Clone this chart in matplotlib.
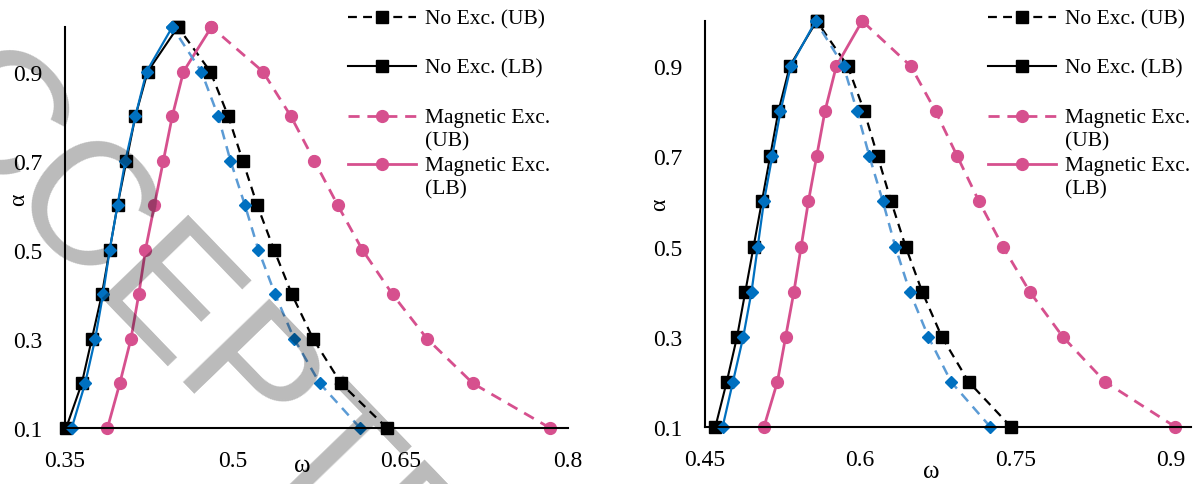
import matplotlib
matplotlib.use("Agg")
import matplotlib.pyplot as plt
from matplotlib.lines import Line2D

plt.rcParams['font.family'] = ['Liberation Serif', 'DejaVu Serif']

# damping ratio levels (shared by every curve)
alpha = [0.1, 0.2, 0.3, 0.4, 0.5, 0.6, 0.7, 0.8, 0.9, 1.0]

# left panel: omega bounds for each alpha
left_noexc_lb = [0.351, 0.365, 0.374, 0.383, 0.390, 0.397, 0.405, 0.413, 0.424, 0.451]
left_noexc_ub = [0.638, 0.597, 0.572, 0.553, 0.537, 0.522, 0.509, 0.496, 0.480, 0.451]
left_blue_lb = [0.356, 0.368, 0.377, 0.384, 0.390, 0.397, 0.404, 0.413, 0.423, 0.446]
left_blue_ub = [0.614, 0.578, 0.555, 0.538, 0.523, 0.511, 0.498, 0.487, 0.472, 0.446]
left_mag_lb = [0.388, 0.399, 0.409, 0.416, 0.422, 0.430, 0.438, 0.446, 0.456, 0.481]
left_mag_ub = [0.784, 0.715, 0.674, 0.643, 0.616, 0.594, 0.573, 0.552, 0.527, 0.481]

# right panel
right_noexc_lb = [0.460, 0.471, 0.481, 0.489, 0.497, 0.505, 0.513, 0.521, 0.532, 0.558]
right_noexc_ub = [0.746, 0.705, 0.679, 0.660, 0.644, 0.630, 0.617, 0.604, 0.588, 0.558]
right_blue_lb = [0.467, 0.477, 0.487, 0.495, 0.501, 0.507, 0.515, 0.523, 0.533, 0.557]
right_blue_ub = [0.726, 0.688, 0.666, 0.648, 0.634, 0.622, 0.609, 0.597, 0.584, 0.557]
right_mag_lb = [0.507, 0.520, 0.528, 0.536, 0.543, 0.550, 0.558, 0.566, 0.577, 0.602]
right_mag_ub = [0.905, 0.837, 0.796, 0.764, 0.738, 0.715, 0.694, 0.673, 0.649, 0.602]

left_xticks = [0.35, 0.5, 0.65, 0.8]
right_xticks = [0.45, 0.6, 0.75, 0.9]
yticks = [0.1, 0.3, 0.5, 0.7, 0.9]

legend_labels = ['No Exc. (UB)', 'No Exc. (LB)', 'Magnetic Exc.\n(UB)', 'Magnetic Exc.\n(LB)']

PINK = '#D6508E'
BLUE = '#0070C0'
LBLUE = '#5B9BD5'
DASH = (0, (4, 2.8))

W, H = 1195, 485
fig = plt.figure(figsize=(W / 100, H / 100), dpi=100)


def fx(px):
    return px / W


def fy(py):
    return 1 - py / H


noexc_ub_style = dict(color='black', lw=1.6, ls=DASH, marker='s', ms=8)
noexc_lb_style = dict(color='black', lw=1.5, ls='-', marker='s', ms=8)
mag_ub_style = dict(color=PINK, lw=2.0, ls=DASH, marker='o', ms=8.5)
mag_lb_style = dict(color=PINK, lw=2.0, ls='-', marker='o', ms=8.5)
blue_ub_style = dict(color=LBLUE, lw=1.8, ls=DASH, marker='D', ms=6,
                     mfc=BLUE, mec=BLUE)
blue_lb_style = dict(color=BLUE, lw=1.6, ls='-', marker='D', ms=6)


def panel(rect, xlim, xticks, curves, xlab_pos, ylab_pos):
    ax = fig.add_axes(rect)
    nlb, nub, blb, bub, mlb, mub = curves
    ax.plot(nub, alpha, clip_on=False, **noexc_ub_style)
    ax.plot(nlb, alpha, clip_on=False, **noexc_lb_style)
    ax.plot(mub, alpha, clip_on=False, **mag_ub_style)
    ax.plot(mlb, alpha, clip_on=False, **mag_lb_style)
    ax.plot(bub, alpha, clip_on=False, **blue_ub_style)
    ax.plot(blb, alpha, clip_on=False, **blue_lb_style)
    ax.set_xlim(*xlim)
    ax.set_ylim(0.1, 1.0)
    ax.set_xticks(xticks)
    ax.set_xticklabels([f'{t:g}' for t in xticks])
    ax.set_yticks(yticks)
    ax.set_yticklabels([f'{t:g}' for t in yticks])
    for s in ['top', 'right']:
        ax.spines[s].set_visible(False)
    for s in ['left', 'bottom']:
        ax.spines[s].set_linewidth(1.5)
    ax.tick_params(length=0, labelsize=17)
    ax.tick_params(axis='x', pad=16)
    ax.tick_params(axis='y', pad=16)
    ax.set_xlabel('ω', fontsize=18, va='center')
    ax.xaxis.set_label_coords(*xlab_pos)
    ax.set_ylabel('α', fontsize=17, va='center')
    ax.yaxis.set_label_coords(*ylab_pos)
    return ax


ax1 = panel([fx(65), fy(429), fx(568) - fx(65), fy(28) - fy(429)], (0.35, 0.8), left_xticks,
            [left_noexc_lb, left_noexc_ub, left_blue_lb, left_blue_ub, left_mag_lb, left_mag_ub],
            (0.471, -0.092), (-0.093, 0.571))
ax2 = panel([fx(705), fy(428), fx(1191) - fx(705), fy(22) - fy(428)], (0.45, 0.92), right_xticks,
            [right_noexc_lb, right_noexc_ub, right_blue_lb, right_blue_ub, right_mag_lb, right_mag_ub],
            (0.465, -0.108), (-0.0926, 0.549))

# legends (Excel style: evenly spaced slots, wrapped labels overflow downwards)
leg_styles = [noexc_ub_style, noexc_lb_style, mag_ub_style, mag_lb_style]
entry_y = [18, 67, 117, 165]
for x0 in [348, 988]:
    for st, lab, y in zip(leg_styles, legend_labels, entry_y):
        xs = [fx(x0), fx(x0 + 34), fx(x0 + 68)]
        ys = [fy(y)] * 3
        fig.add_artist(Line2D(xs, ys, transform=fig.transFigure, markevery=[1], **st))
        for k, line in enumerate(lab.split('\n')):
            fig.text(fx(x0 + 77), fy(y + 6 + 23 * k), line, fontsize=15.5,
                     ha='left', va='baseline')

# "accepted manuscript" watermark
fig.text(fx(-166), fy(22), 'ACCEPTED MANUSCRIPT', fontsize=126, rotation=-46,
         rotation_mode='anchor', ha='left', va='baseline', family='Liberation Sans',
         color='black', alpha=0.27, zorder=10)

fig.savefig('out.png', dpi=100)
